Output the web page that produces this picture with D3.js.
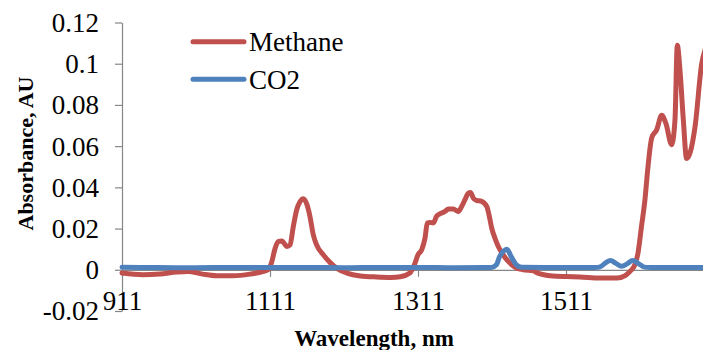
<!DOCTYPE html>
<html>
<head>
<meta charset="utf-8">
<script src="https://cdn.jsdelivr.net/npm/d3@7"></script>
<style>
  html, body { margin: 0; padding: 0; background: #fff; }
  svg { display: block; }
  svg text { font-family: "Liberation Serif", "Times New Roman", "DejaVu Serif", serif; }
</style>
</head>
<body>
<div id="chart"></div>
<script>
// ---------------- DATA ----------------
const methaneWl = [911, 939, 962, 985, 1000, 1020, 1039, 1061, 1084, 1102, 1109, 1113, 1118, 1122, 1127, 1134, 1138, 1142.5, 1147, 1151.5, 1156, 1160.6, 1165, 1169.5, 1174, 1183, 1192, 1201, 1215, 1233, 1255, 1275, 1287, 1300, 1307, 1311, 1316, 1320.5, 1323.6, 1327, 1331.7, 1336, 1341, 1347.5, 1352, 1358.7, 1365.5, 1370, 1374.5, 1379, 1382, 1385.7, 1390, 1397, 1404, 1407.4, 1410.6, 1415, 1419.5, 1426, 1433, 1442, 1453, 1467, 1472, 1493, 1511, 1530, 1557, 1580, 1591, 1597.5, 1604, 1608, 1613, 1617.7, 1621.8, 1626.8, 1633.6, 1640.3, 1646, 1653.8, 1658.3, 1661.4, 1665, 1669.5, 1674, 1678.6, 1685.4, 1694.4, 1700];
const methaneAbs = [-0.0016, -0.0024, -0.0021, -0.0011, -0.0008, -0.0021, -0.0029, -0.0029, -0.0021, -0.0008, 0.0002, 0.0034, 0.0105, 0.0137, 0.014, 0.0113, 0.012, 0.021, 0.029, 0.033, 0.0345, 0.032, 0.0259, 0.017, 0.0121, 0.0073, 0.0036, 0.0008, -0.0016, -0.003, -0.0035, -0.0037, -0.0034, -0.0016, 0.0032, 0.0073, 0.0097, 0.0154, 0.0227, 0.023, 0.0227, 0.0259, 0.0272, 0.0283, 0.0295, 0.0295, 0.0283, 0.0307, 0.034, 0.0372, 0.0375, 0.0348, 0.0337, 0.0332, 0.0307, 0.0259, 0.0202, 0.0153, 0.0113, 0.0073, 0.0041, 0.0013, 0.0, -0.0005, -0.0015, -0.003, -0.0033, -0.0035, -0.004, -0.004, -0.0028, -0.0008, 0.0024, 0.0075, 0.021, 0.034, 0.05, 0.064, 0.068, 0.075, 0.071, 0.0607, 0.073, 0.109, 0.097, 0.073, 0.054, 0.0567, 0.0695, 0.1, 0.108];

const co2Wl = [911, 960, 1010, 1060, 1111, 1160, 1211, 1260, 1311, 1360, 1410, 1417, 1421, 1426, 1431, 1437.5, 1444, 1451, 1500, 1550, 1557, 1565, 1571, 1579, 1586, 1594, 1601, 1609, 1617, 1625, 1660, 1700];
const co2Abs = [0.0012, 0.0011, 0.001, 0.0011, 0.0011, 0.0011, 0.001, 0.0011, 0.0011, 0.001, 0.0011, 0.0024, 0.0062, 0.0088, 0.01, 0.006, 0.0024, 0.0012, 0.0011, 0.0011, 0.0014, 0.0035, 0.0045, 0.003, 0.0017, 0.003, 0.0045, 0.003, 0.0013, 0.0011, 0.0011, 0.0011];

const xTickLabels = [911, 1111, 1311, 1511];
const yTicks = [-0.02, 0, 0.02, 0.04, 0.06, 0.08, 0.1, 0.12];
const yTickLabels = ["-0.02", "0", "0.02", "0.04", "0.06", "0.08", "0.1", "0.12"];
const seriesNames = ["Methane", "CO2"];
const seriesColors = ["#C0504D", "#4F81BD"];

// ---------------- LAYOUT ----------------
const W = 703, H = 350;
const xLeft = 122, xPerNm = 0.74;
const axisColor = "#868686";
const font = "Liberation Serif";

const svg = d3.select("#chart").append("svg")
  .attr("width", W).attr("height", H);

const x = d3.scaleLinear().domain([911, 1511]).range([xLeft, xLeft + 600 * xPerNm]);
const y = d3.scaleLinear().domain([-0.02, 0.12]).range([311, 22.5]);

// Y axis
const yAxis = d3.axisLeft(y)
  .tickValues(yTicks)
  .tickSize(7).tickSizeOuter(0).tickPadding(16)
  .tickFormat((d, i) => yTickLabels[i]);
const gy = svg.append("g").attr("transform", `translate(${xLeft},0)`).call(yAxis)
  .attr("font-family", font).attr("font-size", 27);
gy.select(".domain").attr("stroke", axisColor).attr("stroke-width", 1.2);
gy.selectAll(".tick line").attr("stroke", axisColor).attr("stroke-width", 1.2);
gy.selectAll(".tick text").attr("fill", "#000").attr("dy", "0.33em");

// X axis (at y = 0)
const xAxis = d3.axisBottom(x)
  .tickValues(xTickLabels)
  .tickSize(7).tickSizeOuter(0)
  .tickFormat(d3.format("d"));
const gx = svg.append("g").attr("transform", `translate(0,${y(0)})`).call(xAxis)
  .attr("font-family", font).attr("font-size", 27);
gx.select(".domain").attr("d", `M${xLeft},0.5H${W + 5}`)
  .attr("stroke", axisColor).attr("stroke-width", 1.2);
gx.selectAll(".tick line").attr("stroke", axisColor).attr("stroke-width", 1.2);
gx.selectAll(".tick text").attr("fill", "#000").attr("y", 40).attr("dy", 0);

// Lines
const line = d3.line().x(d => x(d[0])).y(d => y(d[1])).curve(d3.curveMonotoneX);
const methaneData = methaneWl.map((w, i) => [w, methaneAbs[i]]);
const co2Data = co2Wl.map((w, i) => [w, co2Abs[i]]);

svg.append("path").datum(methaneData)
  .attr("d", line).attr("fill", "none")
  .attr("stroke", seriesColors[0]).attr("stroke-width", 5)
  .attr("stroke-linejoin", "round").attr("stroke-linecap", "round");
svg.append("path").datum(co2Data)
  .attr("d", line).attr("fill", "none")
  .attr("stroke", seriesColors[1]).attr("stroke-width", 5)
  .attr("stroke-linejoin", "round").attr("stroke-linecap", "round");

// Legend
const legend = svg.append("g").attr("font-family", font).attr("font-size", 27);
const legY = [41.7, 79.3];
seriesNames.forEach((name, i) => {
  legend.append("line")
    .attr("x1", 193).attr("x2", 244)
    .attr("y1", legY[i]).attr("y2", legY[i])
    .attr("stroke", seriesColors[i]).attr("stroke-width", 5)
    .attr("stroke-linecap", "round");
  legend.append("text")
    .attr("x", 249).attr("y", legY[i] + 9.6)
    .attr("fill", "#000")
    .text(name);
});

// Axis titles
svg.append("text")
  .attr("x", 374).attr("y", 346)
  .attr("text-anchor", "middle")
  .attr("font-family", font).attr("font-size", 23).attr("font-weight", "bold")
  .text("Wavelength, nm");

svg.append("text")
  .attr("transform", "translate(33,153.5) rotate(-90)")
  .attr("text-anchor", "middle")
  .attr("font-family", font).attr("font-size", 22).attr("font-weight", "bold")
  .text("Absorbance, AU");
</script>
</body>
</html>
